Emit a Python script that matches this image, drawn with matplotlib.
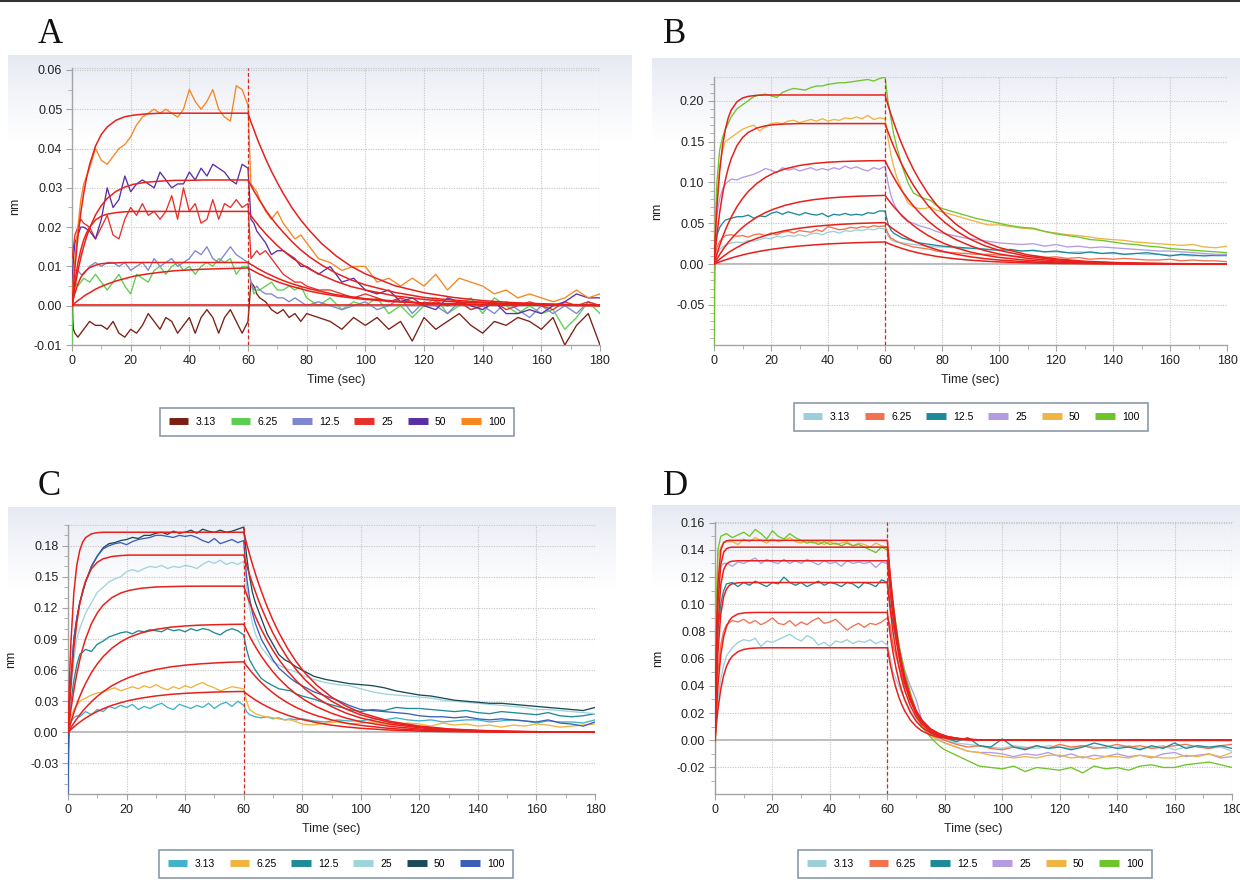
import numpy as np
import matplotlib
matplotlib.use("Agg")
import matplotlib.pyplot as plt
from matplotlib.lines import Line2D
from matplotlib.ticker import MultipleLocator, FormatStrFormatter

# ---------------- data ----------------
CONC = ["3.13", "6.25", "12.5", "25", "50", "100"]

T_DATA = [0, 0.5, 1, 2, 3, 4, 6, 8, 10, 12, 14, 16, 18, 20, 22, 24, 26, 28, 30, 32, 34, 36, 38, 40, 42, 44, 46, 48, 50, 52, 54, 56, 58, 60,
          61, 62, 63, 64, 66, 68, 70, 72, 74, 76, 78, 80, 84, 88, 92, 96, 100, 104, 108, 112, 116, 120, 124, 128, 132, 136, 140, 144, 148, 152, 156, 160, 164, 168, 172, 176, 180]
T_FIT = [0, 0.5, 1, 2, 3, 4, 5, 6, 8, 10, 12, 15, 18, 21, 25, 30, 35, 40, 45, 50, 55, 60,
         61, 62, 63, 64, 65, 66, 68, 70, 72, 75, 78, 81, 85, 90, 95, 100, 110, 120, 130, 140, 150, 160, 170, 180]

# Panel A sensorgrams
A_313 = [0.000, -0.006, -0.007, -0.008, -0.007, -0.006, -0.004, -0.005, -0.005, -0.006, -0.004, -0.007, -0.008, -0.006, -0.007, -0.005, -0.002, -0.004, -0.006, -0.003, -0.004, -0.007, -0.005, -0.003, -0.007, -0.003, -0.001, -0.003, -0.007, -0.003, -0.001, -0.004, -0.007, -0.004,
         0.006, 0.005, 0.003, 0.002, 0.001, -0.001, -0.002, -0.001, -0.003, -0.002, -0.004, -0.002, -0.003, -0.004, -0.006, -0.003, -0.005, -0.003, -0.006, -0.004, -0.009, -0.003, -0.006, -0.004, -0.002, -0.005, -0.007, -0.004, -0.005, -0.003, -0.004, -0.006, -0.003, -0.010, -0.005, -0.002, -0.010]
A_625 = [-0.010, 0.004, 0.006, 0.005, 0.006, 0.007, 0.006, 0.008, 0.006, 0.004, 0.006, 0.008, 0.005, 0.003, 0.008, 0.007, 0.006, 0.009, 0.010, 0.008, 0.010, 0.011, 0.009, 0.010, 0.008, 0.010, 0.011, 0.010, 0.012, 0.011, 0.012, 0.008, 0.010, 0.010,
         0.006, 0.003, 0.004, 0.004, 0.005, 0.006, 0.004, 0.004, 0.005, 0.004, 0.005, 0.002, 0.000, 0.002, -0.001, 0.001, 0.000, 0.002, -0.002, 0.000, -0.003, 0.000, 0.002, -0.002, 0.000, 0.002, -0.002, 0.002, 0.000, -0.002, 0.000, -0.002, -0.001, -0.006, -0.003, 0.001, -0.002]
A_125 = [0.006, 0.010, 0.009, 0.009, 0.008, 0.008, 0.010, 0.011, 0.010, 0.011, 0.011, 0.010, 0.011, 0.009, 0.010, 0.011, 0.009, 0.012, 0.010, 0.011, 0.012, 0.010, 0.011, 0.012, 0.014, 0.013, 0.015, 0.012, 0.011, 0.013, 0.015, 0.013, 0.012, 0.011,
         0.006, 0.004, 0.005, 0.004, 0.003, 0.003, 0.002, 0.002, 0.001, 0.002, 0.001, 0.000, 0.001, 0.000, -0.001, 0.000, 0.001, -0.001, 0.000, 0.002, -0.002, 0.001, 0.000, -0.002, 0.001, -0.001, 0.000, -0.002, 0.001, -0.001, -0.003, 0.000, -0.002, 0.000, -0.002, 0.001, 0.000]
A_25 = [0.012, 0.015, 0.018, 0.020, 0.022, 0.021, 0.020, 0.017, 0.020, 0.023, 0.018, 0.017, 0.022, 0.025, 0.023, 0.026, 0.023, 0.024, 0.022, 0.024, 0.028, 0.022, 0.030, 0.024, 0.026, 0.021, 0.022, 0.027, 0.022, 0.026, 0.025, 0.027, 0.025, 0.026,
        0.012, 0.013, 0.014, 0.013, 0.014, 0.012, 0.010, 0.008, 0.007, 0.006, 0.006, 0.005, 0.004, 0.004, 0.003, 0.002, 0.003, 0.002, 0.001, 0.002, 0.001, 0.000, 0.001, 0.000, 0.001, -0.001, 0.000, 0.001, -0.001, 0.000, 0.001, 0.000, -0.001, 0.001, 0.000, 0.001, 0.000]
A_50 = [0.005, 0.012, 0.016, 0.018, 0.020, 0.020, 0.019, 0.017, 0.022, 0.030, 0.025, 0.027, 0.033, 0.029, 0.031, 0.032, 0.031, 0.030, 0.034, 0.032, 0.030, 0.031, 0.031, 0.034, 0.032, 0.035, 0.033, 0.036, 0.035, 0.034, 0.032, 0.031, 0.036, 0.035,
        0.022, 0.021, 0.019, 0.018, 0.016, 0.013, 0.014, 0.014, 0.013, 0.012, 0.010, 0.010, 0.008, 0.010, 0.006, 0.007, 0.004, 0.003, 0.004, 0.001, 0.002, 0.000, -0.001, 0.002, 0.001, 0.000, -0.001, 0.001, -0.002, -0.002, -0.001, -0.002, 0.000, 0.001, 0.003, 0.002, 0.002]
A_100 = [0.000, 0.008, 0.012, 0.020, 0.027, 0.031, 0.035, 0.040, 0.037, 0.036, 0.038, 0.040, 0.041, 0.043, 0.046, 0.048, 0.049, 0.050, 0.049, 0.050, 0.049, 0.048, 0.050, 0.055, 0.052, 0.050, 0.052, 0.055, 0.050, 0.048, 0.047, 0.056, 0.055, 0.051,
         0.031, 0.030, 0.029, 0.027, 0.024, 0.022, 0.024, 0.021, 0.019, 0.017, 0.018, 0.016, 0.012, 0.011, 0.009, 0.010, 0.010, 0.006, 0.007, 0.005, 0.007, 0.005, 0.008, 0.004, 0.007, 0.006, 0.005, 0.003, 0.004, 0.002, 0.003, 0.002, 0.001, 0.002, 0.004, 0.002, 0.003]

# Panel A fitted curves
A_FIT_313 = [0.0, 0.0002, 0.0002, 0.0002, 0.0002, 0.0002, 0.0002, 0.0002, 0.0002, 0.0002, 0.0002, 0.0002, 0.0002, 0.0002, 0.0002, 0.0002, 0.0002, 0.0002, 0.0002, 0.0002, 0.0002, 0.0002,
             0.0002, 0.0002, 0.0002, 0.0002, 0.0002, 0.0002, 0.0002, 0.0002, 0.0002, 0.0002, 0.0002, 0.0002, 0.0002, 0.0002, 0.0002, 0.0002, 0.0002, 0.0002, 0.0002, 0.0002, 0.0002, 0.0002, 0.0002, 0.0002]
A_FIT_625 = [0.0, 0.0003, 0.0007, 0.0013, 0.0018, 0.0024, 0.0029, 0.0033, 0.0042, 0.0049, 0.0055, 0.0063, 0.0069, 0.0075, 0.0080, 0.0085, 0.0089, 0.0091, 0.0093, 0.0094, 0.0095, 0.0096,
             0.0092, 0.0088, 0.0084, 0.0080, 0.0077, 0.0073, 0.0067, 0.0061, 0.0056, 0.0049, 0.0043, 0.0037, 0.0031, 0.0025, 0.0020, 0.0016, 0.0010, 0.0006, 0.0004, 0.0003, 0.0002, 0.0001, 0.0001, 0.0000]
A_FIT_125 = [0.0, 0.0018, 0.0032, 0.0055, 0.0072, 0.0083, 0.0091, 0.0097, 0.0103, 0.0107, 0.0108, 0.0109, 0.0110, 0.0110, 0.0110, 0.0110, 0.0110, 0.0110, 0.0110, 0.0110, 0.0110, 0.0110,
             0.0105, 0.0101, 0.0096, 0.0092, 0.0088, 0.0084, 0.0077, 0.0070, 0.0064, 0.0056, 0.0049, 0.0043, 0.0036, 0.0028, 0.0023, 0.0018, 0.0012, 0.0007, 0.0005, 0.0003, 0.0002, 0.0001, 0.0001, 0.0000]
A_FIT_25 = [0.0, 0.0033, 0.0062, 0.0108, 0.0142, 0.0168, 0.0186, 0.0200, 0.0218, 0.0228, 0.0233, 0.0237, 0.0239, 0.0240, 0.0240, 0.0240, 0.0240, 0.0240, 0.0240, 0.0240, 0.0240, 0.0240,
            0.0229, 0.0219, 0.0210, 0.0200, 0.0192, 0.0183, 0.0168, 0.0153, 0.0140, 0.0122, 0.0107, 0.0093, 0.0078, 0.0062, 0.0049, 0.0040, 0.0025, 0.0016, 0.0010, 0.0007, 0.0004, 0.0003, 0.0002, 0.0001]
A_FIT_50 = [0.0, 0.0025, 0.0047, 0.0088, 0.0122, 0.0151, 0.0176, 0.0197, 0.0231, 0.0255, 0.0273, 0.0291, 0.0302, 0.0309, 0.0314, 0.0317, 0.0319, 0.0319, 0.0320, 0.0320, 0.0320, 0.0320,
            0.0306, 0.0292, 0.0280, 0.0267, 0.0256, 0.0244, 0.0223, 0.0204, 0.0187, 0.0163, 0.0142, 0.0124, 0.0104, 0.0083, 0.0066, 0.0053, 0.0034, 0.0021, 0.0014, 0.0009, 0.0005, 0.0003, 0.0002, 0.0001]
A_FIT_100 = [0.0, 0.0051, 0.0097, 0.0174, 0.0237, 0.0287, 0.0327, 0.0359, 0.0406, 0.0436, 0.0455, 0.0472, 0.0481, 0.0485, 0.0488, 0.0490, 0.0490, 0.0490, 0.0490, 0.0490, 0.0490, 0.0490,
             0.0468, 0.0448, 0.0428, 0.0409, 0.0392, 0.0374, 0.0342, 0.0313, 0.0286, 0.0249, 0.0218, 0.0191, 0.0159, 0.0127, 0.0101, 0.0081, 0.0051, 0.0033, 0.0021, 0.0013, 0.0008, 0.0005, 0.0003, 0.0002]

# Panel B sensorgrams
B_313 = [-0.010, 0.005, 0.012, 0.018, 0.021, 0.023, 0.026, 0.027, 0.026, 0.029, 0.028, 0.030, 0.032, 0.031, 0.034, 0.033, 0.035, 0.034, 0.036, 0.034, 0.037, 0.038, 0.036, 0.039, 0.040, 0.038, 0.041, 0.040, 0.042, 0.041, 0.043, 0.042, 0.044, 0.043,
         0.035, 0.030, 0.028, 0.027, 0.026, 0.025, 0.024, 0.023, 0.022, 0.022, 0.021, 0.021, 0.020, 0.019, 0.019, 0.018, 0.017, 0.017, 0.016, 0.016, 0.015, 0.015, 0.014, 0.015, 0.014, 0.013, 0.013, 0.012, 0.013, 0.012, 0.012, 0.011, 0.011, 0.010, 0.011, 0.010, 0.010]
B_625 = [-0.010, 0.010, 0.020, 0.028, 0.032, 0.035, 0.036, 0.034, 0.035, 0.033, 0.036, 0.037, 0.035, 0.038, 0.036, 0.039, 0.040, 0.038, 0.041, 0.040, 0.039, 0.042, 0.040, 0.046, 0.044, 0.042, 0.043, 0.045, 0.044, 0.046, 0.045, 0.047, 0.046, 0.047,
         0.038, 0.032, 0.030, 0.028, 0.025, 0.023, 0.021, 0.020, 0.019, 0.018, 0.016, 0.015, 0.014, 0.013, 0.012, 0.012, 0.011, 0.010, 0.009, 0.010, 0.008, 0.009, 0.007, 0.008, 0.006, 0.007, 0.006, 0.007, 0.006, 0.005, 0.005, 0.006, 0.004, 0.005, 0.004, 0.004, 0.003]
B_125 = [-0.020, 0.020, 0.035, 0.045, 0.050, 0.054, 0.056, 0.058, 0.058, 0.060, 0.056, 0.059, 0.058, 0.062, 0.064, 0.061, 0.064, 0.062, 0.060, 0.063, 0.061, 0.060, 0.062, 0.058, 0.061, 0.060, 0.062, 0.060, 0.061, 0.060, 0.063, 0.062, 0.065, 0.065,
         0.050, 0.042, 0.038, 0.036, 0.032, 0.030, 0.028, 0.026, 0.025, 0.024, 0.023, 0.022, 0.021, 0.020, 0.019, 0.018, 0.017, 0.018, 0.016, 0.017, 0.015, 0.016, 0.014, 0.013, 0.015, 0.013, 0.014, 0.012, 0.013, 0.014, 0.012, 0.010, 0.012, 0.011, 0.010, 0.011, 0.011]
B_25 = [-0.020, 0.030, 0.060, 0.080, 0.092, 0.098, 0.104, 0.103, 0.106, 0.108, 0.110, 0.113, 0.117, 0.115, 0.112, 0.118, 0.115, 0.117, 0.114, 0.116, 0.118, 0.115, 0.117, 0.115, 0.118, 0.116, 0.120, 0.117, 0.119, 0.116, 0.114, 0.118, 0.116, 0.120,
        0.100, 0.085, 0.075, 0.068, 0.058, 0.052, 0.050, 0.047, 0.045, 0.043, 0.040, 0.038, 0.035, 0.032, 0.030, 0.028, 0.026, 0.025, 0.024, 0.025, 0.022, 0.024, 0.021, 0.022, 0.020, 0.021, 0.020, 0.019, 0.018, 0.017, 0.016, 0.016, 0.015, 0.014, 0.013, 0.012, 0.012]
B_50 = [-0.050, 0.060, 0.080, 0.120, 0.140, 0.150, 0.155, 0.160, 0.165, 0.168, 0.170, 0.163, 0.168, 0.172, 0.173, 0.172, 0.175, 0.176, 0.173, 0.175, 0.177, 0.175, 0.178, 0.175, 0.177, 0.176, 0.179, 0.178, 0.180, 0.178, 0.182, 0.177, 0.179, 0.178,
        0.155, 0.135, 0.120, 0.108, 0.090, 0.075, 0.070, 0.068, 0.068, 0.070, 0.066, 0.064, 0.060, 0.056, 0.052, 0.048, 0.048, 0.046, 0.044, 0.043, 0.040, 0.038, 0.036, 0.035, 0.033, 0.031, 0.030, 0.029, 0.027, 0.026, 0.025, 0.024, 0.023, 0.024, 0.021, 0.020, 0.022]
B_100 = [-0.099, 0.050, 0.100, 0.140, 0.155, 0.165, 0.180, 0.190, 0.195, 0.200, 0.205, 0.207, 0.208, 0.206, 0.204, 0.210, 0.213, 0.215, 0.214, 0.213, 0.216, 0.218, 0.218, 0.220, 0.221, 0.222, 0.222, 0.223, 0.224, 0.225, 0.226, 0.224, 0.227, 0.229,
         0.200, 0.180, 0.160, 0.145, 0.120, 0.100, 0.087, 0.083, 0.080, 0.078, 0.072, 0.068, 0.064, 0.060, 0.056, 0.053, 0.050, 0.047, 0.045, 0.044, 0.040, 0.037, 0.035, 0.033, 0.030, 0.029, 0.027, 0.025, 0.024, 0.022, 0.021, 0.019, 0.018, 0.017, 0.016, 0.015, 0.014]

B_FIT_313 = [0.0, 0.0007, 0.0014, 0.0027, 0.0040, 0.0052, 0.0063, 0.0074, 0.0094, 0.0112, 0.0129, 0.0150, 0.0169, 0.0185, 0.0203, 0.0221, 0.0235, 0.0247, 0.0255, 0.0262, 0.0267, 0.0271,
             0.0256, 0.0241, 0.0228, 0.0215, 0.0203, 0.0191, 0.0170, 0.0152, 0.0135, 0.0114, 0.0095, 0.0080, 0.0064, 0.0048, 0.0036, 0.0027, 0.0015, 0.0008, 0.0005, 0.0003, 0.0001, 0.0001, 0.0000, 0.0000]
B_FIT_625 = [0.0, 0.0016, 0.0031, 0.0061, 0.0088, 0.0114, 0.0139, 0.0162, 0.0203, 0.0240, 0.0273, 0.0315, 0.0349, 0.0379, 0.0410, 0.0439, 0.0461, 0.0476, 0.0488, 0.0497, 0.0503, 0.0508,
             0.0480, 0.0452, 0.0427, 0.0403, 0.0380, 0.0359, 0.0320, 0.0284, 0.0253, 0.0213, 0.0179, 0.0150, 0.0120, 0.0089, 0.0067, 0.0050, 0.0028, 0.0016, 0.0009, 0.0005, 0.0003, 0.0002, 0.0001, 0.0000]
B_FIT_125 = [0.0, 0.0031, 0.0061, 0.0118, 0.0171, 0.0220, 0.0266, 0.0308, 0.0383, 0.0449, 0.0504, 0.0574, 0.0630, 0.0674, 0.0720, 0.0761, 0.0789, 0.0808, 0.0821, 0.0830, 0.0836, 0.0841,
             0.0794, 0.0748, 0.0706, 0.0667, 0.0629, 0.0594, 0.0529, 0.0471, 0.0420, 0.0352, 0.0296, 0.0249, 0.0198, 0.0148, 0.0110, 0.0082, 0.0046, 0.0026, 0.0014, 0.0008, 0.0005, 0.0003, 0.0001, 0.0001]
B_FIT_25 = [0.0, 0.0062, 0.0121, 0.0230, 0.0329, 0.0419, 0.0499, 0.0573, 0.0700, 0.0803, 0.0888, 0.0987, 0.1060, 0.1115, 0.1166, 0.1207, 0.1232, 0.1247, 0.1256, 0.1261, 0.1265, 0.1267,
            0.1196, 0.1128, 0.1064, 0.1005, 0.0948, 0.0894, 0.0797, 0.0710, 0.0632, 0.0531, 0.0446, 0.0375, 0.0298, 0.0223, 0.0166, 0.0124, 0.0070, 0.0039, 0.0022, 0.0012, 0.0007, 0.0004, 0.0002, 0.0001]
B_FIT_50 = [0.0, 0.0187, 0.0353, 0.0635, 0.0857, 0.1034, 0.1175, 0.1287, 0.1447, 0.1548, 0.1612, 0.1665, 0.1692, 0.1706, 0.1715, 0.1720, 0.1720, 0.1720, 0.1720, 0.1720, 0.1720, 0.1720,
            0.1624, 0.1531, 0.1445, 0.1364, 0.1287, 0.1214, 0.1082, 0.0963, 0.0858, 0.0721, 0.0605, 0.0509, 0.0404, 0.0303, 0.0225, 0.0169, 0.0095, 0.0053, 0.0029, 0.0017, 0.0009, 0.0005, 0.0003, 0.0002]
B_FIT_100 = [0.0, 0.0375, 0.0683, 0.1140, 0.1447, 0.1652, 0.1790, 0.1882, 0.1985, 0.2033, 0.2053, 0.2066, 0.2070, 0.2070, 0.2070, 0.2070, 0.2070, 0.2070, 0.2070, 0.2070, 0.2070, 0.2070,
             0.1954, 0.1842, 0.1739, 0.1642, 0.1548, 0.1461, 0.1302, 0.1159, 0.1033, 0.0867, 0.0729, 0.0613, 0.0486, 0.0364, 0.0271, 0.0203, 0.0114, 0.0064, 0.0035, 0.0020, 0.0011, 0.0006, 0.0004, 0.0002]

# Panel C sensorgrams
C_313 = [-0.010, 0.004, 0.010, 0.014, 0.016, 0.015, 0.020, 0.017, 0.022, 0.020, 0.025, 0.023, 0.026, 0.024, 0.027, 0.022, 0.025, 0.023, 0.026, 0.028, 0.024, 0.022, 0.027, 0.025, 0.023, 0.026, 0.024, 0.028, 0.023, 0.027, 0.029, 0.025, 0.030, 0.026,
         0.020, 0.017, 0.016, 0.015, 0.014, 0.015, 0.013, 0.014, 0.012, 0.013, 0.012, 0.013, 0.011, 0.010, 0.012, 0.011, 0.011, 0.013, 0.012, 0.014, 0.012, 0.011, 0.012, 0.010, 0.011, 0.012, 0.012, 0.010, 0.011, 0.012, 0.011, 0.009, 0.011, 0.010, 0.010, 0.009, 0.012]
C_625 = [-0.005, 0.008, 0.015, 0.022, 0.026, 0.030, 0.033, 0.036, 0.038, 0.039, 0.041, 0.043, 0.040, 0.042, 0.044, 0.042, 0.045, 0.043, 0.046, 0.043, 0.041, 0.044, 0.042, 0.045, 0.043, 0.046, 0.048, 0.045, 0.043, 0.040, 0.042, 0.044, 0.043, 0.042,
         0.030, 0.022, 0.020, 0.018, 0.016, 0.015, 0.014, 0.013, 0.012, 0.012, 0.010, 0.008, 0.007, 0.009, 0.010, 0.008, 0.009, 0.010, 0.008, 0.007, 0.009, 0.008, 0.006, 0.009, 0.007, 0.008, 0.006, 0.007, 0.005, 0.007, 0.006, 0.008, 0.007, 0.005, 0.006, 0.007, 0.008]
C_125 = [0.000, 0.015, 0.030, 0.050, 0.065, 0.075, 0.080, 0.078, 0.085, 0.088, 0.092, 0.094, 0.096, 0.097, 0.095, 0.098, 0.097, 0.099, 0.098, 0.097, 0.100, 0.098, 0.099, 0.097, 0.100, 0.098, 0.100, 0.099, 0.096, 0.094, 0.098, 0.100, 0.098, 0.094,
         0.080, 0.070, 0.065, 0.060, 0.052, 0.048, 0.045, 0.042, 0.041, 0.040, 0.037, 0.035, 0.032, 0.028, 0.025, 0.022, 0.020, 0.022, 0.021, 0.024, 0.023, 0.023, 0.022, 0.021, 0.020, 0.021, 0.019, 0.018, 0.020, 0.019, 0.018, 0.017, 0.019, 0.016, 0.015, 0.016, 0.018]
C_25 = [0.000, 0.020, 0.040, 0.070, 0.090, 0.100, 0.115, 0.125, 0.135, 0.140, 0.145, 0.148, 0.150, 0.155, 0.157, 0.155, 0.158, 0.160, 0.159, 0.161, 0.158, 0.160, 0.159, 0.161, 0.160, 0.158, 0.162, 0.165, 0.163, 0.166, 0.162, 0.164, 0.162, 0.165,
        0.140, 0.120, 0.105, 0.095, 0.082, 0.075, 0.068, 0.065, 0.062, 0.060, 0.058, 0.055, 0.051, 0.048, 0.046, 0.045, 0.042, 0.039, 0.037, 0.036, 0.035, 0.034, 0.033, 0.031, 0.030, 0.029, 0.028, 0.027, 0.026, 0.025, 0.024, 0.022, 0.022, 0.021, 0.020, 0.019, 0.018]
C_50 = [-0.030, 0.030, 0.050, 0.090, 0.110, 0.125, 0.145, 0.160, 0.170, 0.178, 0.182, 0.183, 0.185, 0.186, 0.188, 0.187, 0.190, 0.190, 0.192, 0.193, 0.191, 0.194, 0.192, 0.193, 0.195, 0.192, 0.196, 0.194, 0.193, 0.195, 0.193, 0.194, 0.196, 0.198,
        0.170, 0.150, 0.135, 0.125, 0.110, 0.095, 0.085, 0.075, 0.070, 0.067, 0.063, 0.060, 0.054, 0.051, 0.049, 0.047, 0.046, 0.045, 0.043, 0.040, 0.038, 0.036, 0.035, 0.033, 0.031, 0.030, 0.029, 0.028, 0.028, 0.027, 0.026, 0.025, 0.024, 0.023, 0.022, 0.021, 0.024]
C_100 = [-0.060, 0.030, 0.050, 0.090, 0.110, 0.125, 0.145, 0.160, 0.170, 0.177, 0.180, 0.182, 0.183, 0.181, 0.184, 0.186, 0.187, 0.188, 0.190, 0.190, 0.189, 0.188, 0.190, 0.189, 0.190, 0.188, 0.185, 0.183, 0.187, 0.182, 0.184, 0.186, 0.183, 0.185,
         0.150, 0.130, 0.115, 0.105, 0.090, 0.080, 0.070, 0.062, 0.057, 0.052, 0.048, 0.045, 0.039, 0.035, 0.031, 0.026, 0.022, 0.021, 0.020, 0.019, 0.018, 0.016, 0.015, 0.015, 0.014, 0.015, 0.013, 0.012, 0.013, 0.012, 0.011, 0.010, 0.012, 0.009, 0.008, 0.006, 0.010]

C_FIT_313 = [0.0, 0.0014, 0.0027, 0.0052, 0.0076, 0.0098, 0.0118, 0.0137, 0.0172, 0.0201, 0.0227, 0.0260, 0.0286, 0.0308, 0.0330, 0.0351, 0.0366, 0.0376, 0.0383, 0.0388, 0.0392, 0.0394,
             0.0372, 0.0351, 0.0331, 0.0312, 0.0295, 0.0278, 0.0248, 0.0221, 0.0197, 0.0165, 0.0139, 0.0117, 0.0093, 0.0069, 0.0052, 0.0039, 0.0022, 0.0012, 0.0007, 0.0004, 0.0002, 0.0001, 0.0001, 0.0000]
C_FIT_625 = [0.0, 0.0023, 0.0047, 0.0090, 0.0130, 0.0168, 0.0204, 0.0237, 0.0296, 0.0347, 0.0392, 0.0449, 0.0494, 0.0531, 0.0570, 0.0606, 0.0631, 0.0648, 0.0660, 0.0669, 0.0676, 0.0680,
             0.0642, 0.0605, 0.0571, 0.0539, 0.0509, 0.0480, 0.0428, 0.0381, 0.0339, 0.0285, 0.0239, 0.0201, 0.0160, 0.0120, 0.0089, 0.0067, 0.0037, 0.0021, 0.0012, 0.0007, 0.0004, 0.0002, 0.0001, 0.0001]
C_FIT_125 = [0.0, 0.0051, 0.0099, 0.0189, 0.0271, 0.0345, 0.0411, 0.0471, 0.0576, 0.0660, 0.0730, 0.0812, 0.0873, 0.0918, 0.0959, 0.0993, 0.1014, 0.1026, 0.1034, 0.1038, 0.1041, 0.1043,
             0.0985, 0.0928, 0.0876, 0.0827, 0.0780, 0.0736, 0.0656, 0.0584, 0.0520, 0.0437, 0.0367, 0.0309, 0.0245, 0.0184, 0.0137, 0.0102, 0.0057, 0.0032, 0.0018, 0.0010, 0.0006, 0.0003, 0.0002, 0.0001]
C_FIT_25 = [0.0, 0.0116, 0.0220, 0.0406, 0.0564, 0.0695, 0.0808, 0.0901, 0.1048, 0.1152, 0.1227, 0.1300, 0.1344, 0.1370, 0.1390, 0.1402, 0.1406, 0.1409, 0.1410, 0.1410, 0.1410, 0.1410,
            0.1331, 0.1255, 0.1184, 0.1118, 0.1055, 0.0995, 0.0887, 0.0790, 0.0704, 0.0591, 0.0496, 0.0417, 0.0331, 0.0248, 0.0185, 0.0138, 0.0078, 0.0044, 0.0024, 0.0014, 0.0008, 0.0004, 0.0002, 0.0001]
C_FIT_50 = [0.0, 0.0253, 0.0469, 0.0809, 0.1055, 0.1235, 0.1365, 0.1459, 0.1578, 0.1640, 0.1674, 0.1696, 0.1705, 0.1710, 0.1710, 0.1710, 0.1710, 0.1710, 0.1710, 0.1710, 0.1710, 0.1710,
            0.1614, 0.1522, 0.1436, 0.1356, 0.1279, 0.1207, 0.1076, 0.0958, 0.0853, 0.0716, 0.0602, 0.0506, 0.0402, 0.0301, 0.0224, 0.0168, 0.0094, 0.0053, 0.0029, 0.0017, 0.0009, 0.0005, 0.0003, 0.0002]
C_FIT_100 = [0.0, 0.0500, 0.0870, 0.1349, 0.1612, 0.1754, 0.1834, 0.1878, 0.1915, 0.1926, 0.1930, 0.1930, 0.1930, 0.1930, 0.1930, 0.1930, 0.1930, 0.1930, 0.1930, 0.1930, 0.1930, 0.1930,
             0.1822, 0.1718, 0.1621, 0.1530, 0.1444, 0.1363, 0.1214, 0.1081, 0.0963, 0.0809, 0.0679, 0.0571, 0.0454, 0.0340, 0.0253, 0.0189, 0.0106, 0.0060, 0.0033, 0.0019, 0.0010, 0.0006, 0.0003, 0.0002]

# Panel D sensorgrams
D_313 = [0.000, 0.015, 0.030, 0.045, 0.055, 0.062, 0.068, 0.072, 0.074, 0.073, 0.075, 0.069, 0.073, 0.072, 0.074, 0.076, 0.078, 0.075, 0.073, 0.077, 0.075, 0.070, 0.072, 0.069, 0.073, 0.072, 0.074, 0.071, 0.073, 0.072, 0.074, 0.071, 0.073, 0.070,
         0.062, 0.050, 0.045, 0.040, 0.030, 0.022, 0.016, 0.010, 0.006, 0.003, 0.001, 0.000, -0.002, -0.003, -0.004, -0.005, -0.006, -0.004, -0.005, -0.006, -0.004, -0.005, -0.006, -0.004, -0.005, -0.006, -0.005, -0.004, -0.006, -0.005, -0.004, -0.007, -0.005, -0.004, -0.006, -0.005, -0.008]
D_625 = [-0.010, 0.020, 0.050, 0.070, 0.080, 0.085, 0.088, 0.087, 0.089, 0.086, 0.088, 0.085, 0.087, 0.090, 0.086, 0.085, 0.088, 0.084, 0.087, 0.085, 0.088, 0.090, 0.086, 0.087, 0.089, 0.085, 0.081, 0.084, 0.086, 0.083, 0.086, 0.085, 0.087, 0.090,
         0.085, 0.070, 0.062, 0.055, 0.040, 0.030, 0.020, 0.013, 0.008, 0.004, 0.002, 0.000, -0.003, -0.005, -0.004, -0.006, -0.007, -0.005, -0.006, -0.004, -0.006, -0.003, -0.005, -0.004, -0.006, -0.005, -0.003, -0.005, -0.004, -0.006, -0.005, -0.004, -0.003, -0.005, -0.006, -0.004, -0.003]
D_125 = [0.000, 0.050, 0.080, 0.100, 0.110, 0.115, 0.116, 0.113, 0.116, 0.114, 0.117, 0.115, 0.113, 0.116, 0.115, 0.120, 0.116, 0.114, 0.116, 0.113, 0.115, 0.117, 0.114, 0.116, 0.115, 0.113, 0.116, 0.115, 0.112, 0.116, 0.115, 0.113, 0.118, 0.116,
         0.100, 0.085, 0.075, 0.065, 0.045, 0.032, 0.020, 0.012, 0.008, 0.005, 0.003, 0.002, -0.001, 0.002, -0.004, -0.005, 0.001, -0.005, -0.007, -0.004, -0.006, -0.005, -0.007, -0.005, -0.002, -0.004, -0.006, -0.005, -0.007, -0.004, -0.006, -0.002, -0.006, -0.004, -0.005, -0.004, -0.006]
D_25 = [-0.020, 0.080, 0.120, 0.128, 0.130, 0.130, 0.128, 0.131, 0.130, 0.132, 0.134, 0.130, 0.133, 0.131, 0.130, 0.133, 0.130, 0.132, 0.130, 0.133, 0.131, 0.129, 0.132, 0.130, 0.131, 0.128, 0.132, 0.130, 0.131, 0.130, 0.131, 0.127, 0.131, 0.130,
        0.110, 0.095, 0.082, 0.070, 0.052, 0.040, 0.030, 0.015, 0.008, 0.003, 0.000, -0.002, -0.005, -0.008, -0.009, -0.009, -0.010, -0.012, -0.010, -0.011, -0.009, -0.012, -0.010, -0.013, -0.011, -0.012, -0.010, -0.012, -0.011, -0.013, -0.010, -0.009, -0.012, -0.011, -0.010, -0.013, -0.012]
D_50 = [-0.030, 0.100, 0.135, 0.142, 0.145, 0.146, 0.146, 0.144, 0.148, 0.146, 0.149, 0.147, 0.145, 0.148, 0.146, 0.147, 0.149, 0.146, 0.145, 0.147, 0.145, 0.146, 0.144, 0.146, 0.144, 0.145, 0.146, 0.143, 0.145, 0.144, 0.142, 0.145, 0.143, 0.142,
        0.120, 0.100, 0.085, 0.070, 0.050, 0.035, 0.022, 0.012, 0.006, 0.002, 0.000, -0.002, -0.005, -0.008, -0.009, -0.011, -0.012, -0.013, -0.012, -0.013, -0.011, -0.011, -0.013, -0.012, -0.014, -0.012, -0.012, -0.013, -0.011, -0.012, -0.013, -0.013, -0.011, -0.012, -0.010, -0.012, -0.009]
D_100 = [-0.040, 0.100, 0.140, 0.150, 0.151, 0.152, 0.149, 0.151, 0.153, 0.150, 0.155, 0.152, 0.148, 0.154, 0.150, 0.148, 0.152, 0.149, 0.147, 0.145, 0.146, 0.144, 0.146, 0.144, 0.145, 0.143, 0.145, 0.143, 0.144, 0.142, 0.140, 0.138, 0.142, 0.140,
         0.120, 0.100, 0.085, 0.070, 0.050, 0.035, 0.020, 0.010, 0.005, 0.000, -0.004, -0.007, -0.011, -0.015, -0.019, -0.020, -0.021, -0.019, -0.023, -0.020, -0.021, -0.022, -0.020, -0.024, -0.019, -0.021, -0.020, -0.022, -0.019, -0.018, -0.020, -0.020, -0.018, -0.017, -0.016, -0.018, -0.020]

D_FIT_313 = [0.0, 0.0123, 0.0224, 0.0375, 0.0475, 0.0543, 0.0588, 0.0618, 0.0652, 0.0668, 0.0675, 0.0679, 0.0680, 0.0680, 0.0680, 0.0680, 0.0680, 0.0680, 0.0680, 0.0680, 0.0680, 0.0680,
             0.0562, 0.0465, 0.0385, 0.0318, 0.0263, 0.0218, 0.0149, 0.0102, 0.0069, 0.0039, 0.0022, 0.0013, 0.0006, 0.0002, 0.0001, 0.0000, 0.0000, 0.0000, 0.0000, 0.0000, 0.0000, 0.0000, 0.0000, 0.0000]
D_FIT_625 = [0.0, 0.0226, 0.0398, 0.0627, 0.0760, 0.0836, 0.0880, 0.0905, 0.0929, 0.0936, 0.0939, 0.0940, 0.0940, 0.0940, 0.0940, 0.0940, 0.0940, 0.0940, 0.0940, 0.0940, 0.0940, 0.0940,
             0.0777, 0.0643, 0.0532, 0.0440, 0.0364, 0.0301, 0.0206, 0.0141, 0.0096, 0.0055, 0.0031, 0.0017, 0.0008, 0.0003, 0.0001, 0.0000, 0.0000, 0.0000, 0.0000, 0.0000, 0.0000, 0.0000, 0.0000, 0.0000]
D_FIT_125 = [0.0, 0.0383, 0.0639, 0.0926, 0.1054, 0.1112, 0.1139, 0.1151, 0.1158, 0.1160, 0.1160, 0.1160, 0.1160, 0.1160, 0.1160, 0.1160, 0.1160, 0.1160, 0.1160, 0.1160, 0.1160, 0.1160,
             0.0959, 0.0793, 0.0657, 0.0543, 0.0449, 0.0371, 0.0254, 0.0174, 0.0118, 0.0067, 0.0038, 0.0021, 0.0010, 0.0004, 0.0002, 0.0001, 0.0000, 0.0000, 0.0000, 0.0000, 0.0000, 0.0000, 0.0000, 0.0000]
D_FIT_25 = [0.0, 0.0519, 0.0834, 0.1142, 0.1254, 0.1296, 0.1311, 0.1317, 0.1320, 0.1320, 0.1320, 0.1320, 0.1320, 0.1320, 0.1320, 0.1320, 0.1320, 0.1320, 0.1320, 0.1320, 0.1320, 0.1320,
            0.1092, 0.0903, 0.0747, 0.0618, 0.0511, 0.0422, 0.0289, 0.0198, 0.0135, 0.0077, 0.0044, 0.0024, 0.0011, 0.0004, 0.0002, 0.0001, 0.0000, 0.0000, 0.0000, 0.0000, 0.0000, 0.0000, 0.0000, 0.0000]
D_FIT_50 = [0.0, 0.0640, 0.0993, 0.1291, 0.1382, 0.1409, 0.1417, 0.1420, 0.1420, 0.1420, 0.1420, 0.1420, 0.1420, 0.1420, 0.1420, 0.1420, 0.1420, 0.1420, 0.1420, 0.1420, 0.1420, 0.1420,
            0.1174, 0.0971, 0.0804, 0.0665, 0.0550, 0.0454, 0.0311, 0.0213, 0.0145, 0.0082, 0.0047, 0.0026, 0.0012, 0.0005, 0.0002, 0.0001, 0.0000, 0.0000, 0.0000, 0.0000, 0.0000, 0.0000, 0.0000, 0.0000]
D_FIT_100 = [0.0, 0.0776, 0.1142, 0.1397, 0.1454, 0.1467, 0.1470, 0.1470, 0.1470, 0.1470, 0.1470, 0.1470, 0.1470, 0.1470, 0.1470, 0.1470, 0.1470, 0.1470, 0.1470, 0.1470, 0.1470, 0.1470,
             0.1216, 0.1005, 0.0832, 0.0688, 0.0569, 0.0470, 0.0322, 0.0221, 0.0150, 0.0085, 0.0049, 0.0027, 0.0013, 0.0005, 0.0002, 0.0001, 0.0000, 0.0000, 0.0000, 0.0000, 0.0000, 0.0000, 0.0000, 0.0000]

COLORS_A = ["#7a1f14", "#5ccf4f", "#7f86d0", "#e8302a", "#5b2ea6", "#f7861f"]
COLORS_B = ["#9ccfd8", "#f2714f", "#1d8a99", "#b49be3", "#efb443", "#6ec52a"]
COLORS_C = ["#3fb3c9", "#f0b33e", "#1f8b98", "#9fd4dc", "#1b4b57", "#3b5fb8"]
COLORS_D = COLORS_B
FIT_RED = "#e8201c"

# ---------------- style ----------------
plt.rcParams['font.family'] = ['Liberation Sans', 'DejaVu Sans']
plt.rcParams['axes.unicode_minus'] = False

W, H = 1240, 880
fig = plt.figure(figsize=(W / 100, H / 100), dpi=100)
fig.patch.set_facecolor('white')


def rect(x0, y0, x1, y1):
    return [x0 / W, 1 - y1 / H, (x1 - x0) / W, (y1 - y0) / H]


def panel_bg(x0, y0, x1, y1):
    bg = fig.add_axes(rect(x0, y0, x1, y1), zorder=-5)
    n = 300
    v = np.linspace(0, 1, n)
    fade = np.clip(v / 0.22, 0, 1) ** 0.8
    top = np.array([0.895, 0.91, 0.948])
    col = top[None, :] * (1 - fade[:, None]) + fade[:, None]
    bg.imshow(col[:, None, :], aspect='auto', extent=[0, 1, 0, 1], origin='upper', interpolation='bilinear')
    bg.set_axis_off()


panels = [
    dict(letter="A", data=[A_313, A_625, A_125, A_25, A_50, A_100],
         fits=[A_FIT_313, A_FIT_625, A_FIT_125, A_FIT_25, A_FIT_50, A_FIT_100],
         colors=COLORS_A, box=(72, 68, 600, 345), bg=(8, 55, 632, 445),
         ylim=(-0.01, 0.0605), major=0.01, minor=0.005, leg=(337, 408), lpos=(38, 43)),
    dict(letter="B", data=[B_313, B_625, B_125, B_25, B_50, B_100],
         fits=[B_FIT_313, B_FIT_625, B_FIT_125, B_FIT_25, B_FIT_50, B_FIT_100],
         colors=COLORS_B, box=(714, 77, 1227, 345), bg=(652, 58, 1240, 440),
         ylim=(-0.099, 0.229), major=0.05, minor=0.01, leg=(971, 403), lpos=(663, 43)),
    dict(letter="C", data=[C_313, C_625, C_125, C_25, C_50, C_100],
         fits=[C_FIT_313, C_FIT_625, C_FIT_125, C_FIT_25, C_FIT_50, C_FIT_100],
         colors=COLORS_C, box=(68, 525, 595, 794), bg=(8, 507, 616, 880),
         ylim=(-0.0595, 0.20), major=0.03, minor=0.01, leg=(336, 850), lpos=(38, 495)),
    dict(letter="D", data=[D_313, D_625, D_125, D_25, D_50, D_100],
         fits=[D_FIT_313, D_FIT_625, D_FIT_125, D_FIT_25, D_FIT_50, D_FIT_100],
         colors=COLORS_D, box=(715, 522, 1232, 794), bg=(652, 505, 1240, 880),
         ylim=(-0.0395, 0.1605), major=0.02, minor=0.01, leg=(975, 850), lpos=(663, 495)),
]

GRID = '#c6c6c6'
AXC = '#a4a4a4'

for p in panels:
    panel_bg(*p["bg"])
    x0, y0, x1, y1 = p["box"]
    ax = fig.add_axes(rect(x0, y0, x1, y1))
    ax.set_facecolor('none')
    ax.set_xlim(0, 180)
    ax.set_ylim(*p["ylim"])
    ax.xaxis.set_major_locator(MultipleLocator(20))
    ax.xaxis.set_minor_locator(MultipleLocator(10))
    ax.yaxis.set_major_locator(MultipleLocator(p["major"]))
    ax.yaxis.set_minor_locator(MultipleLocator(p["minor"]))
    ax.yaxis.set_major_formatter(FormatStrFormatter('%.2f'))
    ax.grid(True, which='major', color=GRID, linestyle=(0, (1, 1.2)), linewidth=0.8)
    ax.axhline(p["ylim"][1], color=GRID, linestyle=(0, (1, 1.2)), linewidth=0.8, clip_on=False)
    for s in ['top', 'right']:
        ax.spines[s].set_visible(False)
    for s in ['left', 'bottom']:
        ax.spines[s].set_color(AXC)
        ax.spines[s].set_linewidth(1.0)
    ax.tick_params(which='both', direction='out', color=AXC, labelsize=9, labelcolor='#222222')
    ax.tick_params(which='major', length=4, pad=3)
    ax.tick_params(which='minor', length=3)
    ax.axhline(0, color='#b4b4b4', lw=1.3, zorder=1)

    for series, c in zip(p["data"], p["colors"]):
        ax.plot(T_DATA, series, color=c, lw=0.95, zorder=3)
    for fit in p["fits"]:
        ax.plot(T_FIT, fit, color=FIT_RED, lw=1.1, zorder=4)
    ax.axvline(60, color='#d8251e', lw=0.9, linestyle=(0, (3, 2)), zorder=5)

    wpx, hpx = x1 - x0, y1 - y0
    ax.set_xlabel('Time (sec)', fontsize=9, color='#222222')
    ax.xaxis.set_label_coords(0.5, -29 / hpx)
    ax.set_ylabel('nm', fontsize=9, color='#222222')
    ax.yaxis.set_label_coords(-51 / wpx, 0.5)

    handles = [Line2D([], [], color=c, lw=5, solid_capstyle='butt') for c in p["colors"]]
    lx, ly = p["leg"]
    leg = ax.legend(handles, CONC, loc='upper center', bbox_to_anchor=(lx / W, 1 - ly / H),
                    bbox_transform=fig.transFigure, ncol=6, fontsize=7.5, frameon=True,
                    fancybox=False, edgecolor='#8e9aa8', framealpha=1, handlelength=1.9,
                    handletextpad=0.7, columnspacing=1.4, borderpad=0.85, borderaxespad=0.0)
    leg.get_frame().set_linewidth(1.2)

    fig.text(p["lpos"][0] / W, 1 - p["lpos"][1] / H, p["letter"], fontsize=25,
             family=['Liberation Serif', 'DejaVu Serif'], ha='left', va='baseline', color='#111111')

fig.add_artist(Line2D([0, 1], [1 - 0.8 / H, 1 - 0.8 / H], transform=fig.transFigure, color='#333333', lw=1.5))

fig.savefig('out.png', dpi=100)
